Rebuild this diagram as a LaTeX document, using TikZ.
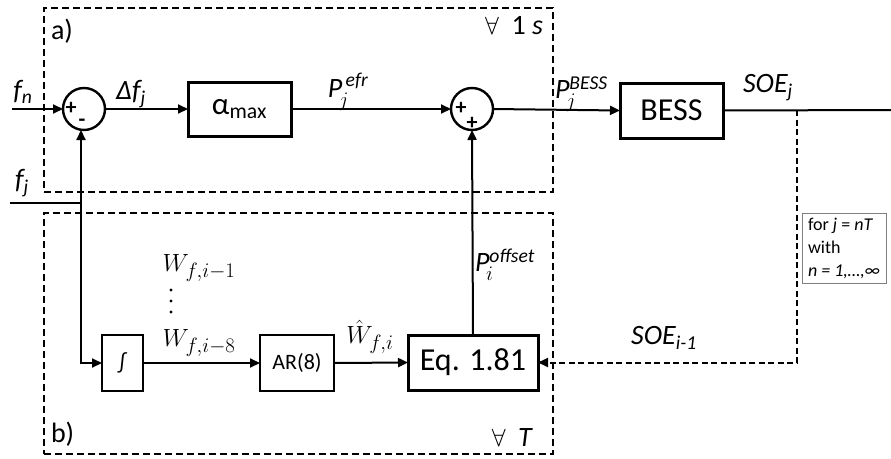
\documentclass[tikz,border=0pt]{standalone}
\usepackage{amsmath}
\usepackage{fontspec}
\setmainfont{Carlito}
\usetikzlibrary{arrows.meta,calc}
\begin{document}
\begin{tikzpicture}[x=1pt,y=-1pt,
  every node/.style={inner sep=0pt,outer sep=0pt},
  blk/.style={draw,line width=3pt,fill=white,minimum width=#1},
  sumc/.style={draw,circle,line width=2.4pt,minimum size=42pt},
  grp/.style={draw,line width=2.6pt,dash pattern=on 7pt off 4pt},
  arr/.style={line width=2pt,-{Triangle[length=10pt,width=9pt]}},
  ln/.style={line width=2pt},
  lbl/.style={font=\fontsize{28}{32}\selectfont},
  mth/.style={font=\fontsize{31}{34}\selectfont},
  sgn/.style={font=\fontsize{22}{24}\selectfont\bfseries}]
\useasboundingbox (0,0) rectangle (891,458);
% group boxes
\node[grp,minimum width=509pt,minimum height=184pt] (ga) at (298.5,100) {};
\node[grp,minimum width=509pt,minimum height=241pt] (gb) at (298.5,333.5) {};
\node[lbl,anchor=north west] (la) at (51,19) {a)};
\node[lbl,anchor=south west] (lb) at (51,446) {b)};
\node[lbl,anchor=north east] (t1) at (543,16) {$\forall$\ \ 1 \textit{s}};
\node[lbl,anchor=south east] (t2) at (533,446) {$\forall$\ \ \textit{T}};
% blocks
\node[sumc] (s1) at (84,109) {};
\node[sumc] (s2) at (472,109) {};
\node[blk=103pt,minimum height=54pt,font=\fontsize{31}{34}\selectfont] (alpha) at (239.5,109) {α$_{\text{max}}$};
\node[blk=103pt,minimum height=55pt,font=\fontsize{32}{34}\selectfont] (bess) at (671.5,110.5) {BESS};
\node[blk=41pt,minimum height=56pt,line width=2.4pt,font=\fontsize{22}{24}\selectfont] (integ) at (122.5,363) {∫};
\node[blk=74pt,minimum height=56pt,line width=2.4pt,font=\fontsize{22}{24}\selectfont] (ar) at (297,363) {AR(8)};
\node[blk=130pt,minimum height=55pt,font=\fontsize{32}{34}\selectfont] (eq) at (473,362.5) {Eq. 1.81};
% signs
\node[sgn] (p1) at (71,108) {+};
\node[sgn] (m1) at (82,123) {-};
\node[sgn] (p2) at (461,108) {+};
\node[sgn] (p3) at (472,123) {+};
% coordinates
\coordinate (fnin) at (12,109);
\coordinate (fjin) at (10,203);
\coordinate (fjc) at (81,203);
\coordinate (out) at (891,110);
\coordinate (tap) at (797,110);
% connectors
\draw[arr] (fnin) -- (s1.west);
\draw[ln] (fjin) -- (fjc);
\draw[arr] (fjc) -- (fjc |- s1.south);
\draw[arr] (fjc) |- (integ.west);
\draw[arr] (s1.east) -- (alpha.west);
\draw[arr] (alpha.east) -- (s2.west);
\draw[arr] (s2.east) -- (bess.west);
\draw[ln] (bess.east) -- (out);
\draw[arr] (integ.east) -- (ar.west);
\draw[arr] (ar.east) -- (eq.west);
\draw[arr] (eq.north) -- (s2.south);
\draw[arr,dash pattern=on 6pt off 3.5pt] (tap) |- (eq.east);
% labels
\node[lbl] (lfn) at (23,92) {\textit{f\textsubscript{n}}};
\node[lbl] (lfj) at (22,183) {\textit{f\textsubscript{j}}};
\node[lbl] (ldf) at (131,94) {\textit{Δf\textsubscript{j}}};
\node[lbl] (lpe) at (348,92) {\textit{P$_{\!j}^{\,\text{\textit{efr}}}$}};
\node[lbl,anchor=west] (lpb) at (555,94) {\textit{P$_{\!j}^{\text{\textit{BESS}}}$}};
\node[lbl] (lsoe) at (768,88) {\textit{SOE\textsubscript{j}}};
\node[lbl,anchor=west] (lpo) at (475,265) {\textit{P$_{\!i}^{\text{\textit{offset}}}$}};
\node[lbl] (lsoe2) at (664,338) {\textit{SOE\textsubscript{i-1}}};
\node[mth] (lw1) at (199,268) {$W_{f,i-1}$};
\node[mth] (lw8) at (199,343) {$W_{f,i-8}$};
\node[mth] (lwh) at (370,337) {$\hat{W}_{f,i}$};
\fill (171,290) circle (1.6pt) (171,301) circle (1.6pt) (171,312) circle (1.6pt);
\node[draw=gray,line width=0.8pt,anchor=north west,align=left,inner xsep=6pt,inner ysep=5pt,font=\fontsize{18}{23}\selectfont] (note) at (802,213) {for \textit{j} = \textit{nT}\\with\\\textit{n = 1,…,∞}};
\end{tikzpicture}
\end{document}
